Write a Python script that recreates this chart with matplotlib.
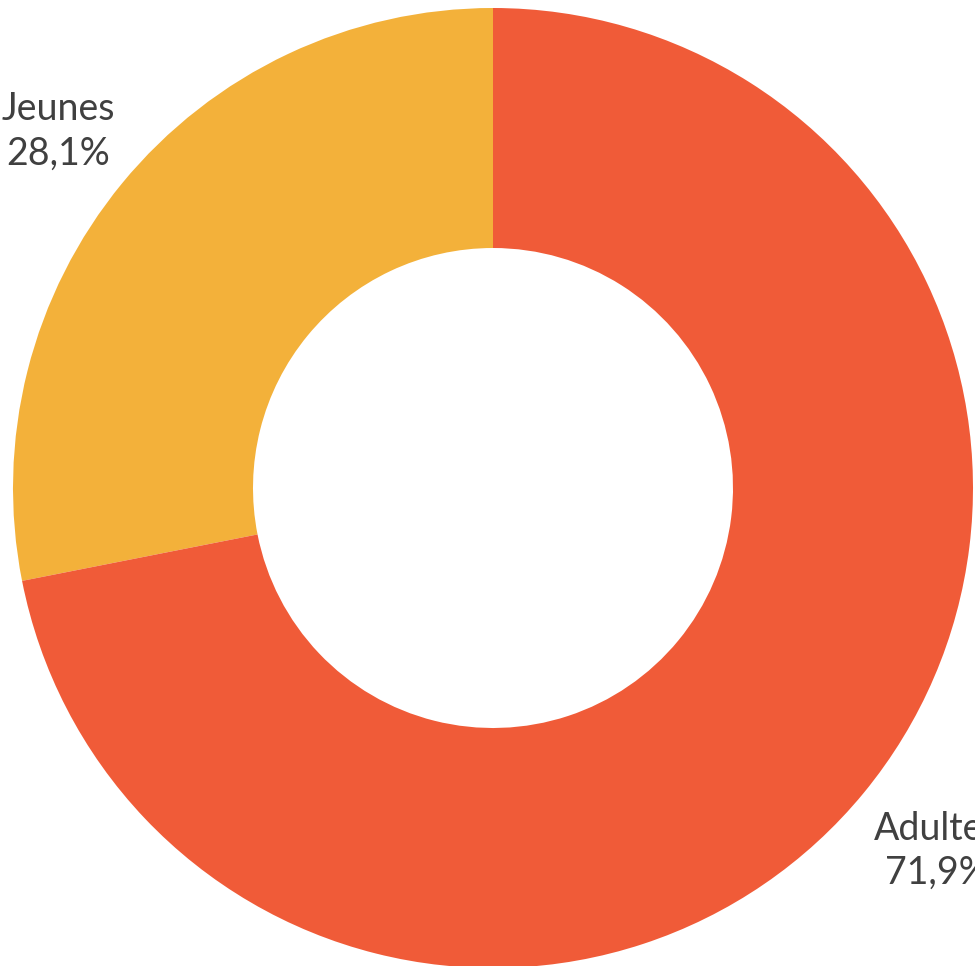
import matplotlib
matplotlib.use('Agg')
from matplotlib import pyplot as plt

labels = ['Jeunes', 'Adultes']
shares = [28.1, 71.9]
colors = ['#F3B13A', '#F05B38']

# label anchor points (data units, pie radius = 1)
label_pos = [(-0.906, 0.742), (0.925, -0.756)]

fig = plt.figure(figsize=(9.75, 9.66), dpi=100)
ax = fig.add_axes([0, 0, 1, 1])
ax.pie(shares, colors=colors, startangle=90, counterclock=True,
       radius=1.0, wedgeprops=dict(width=0.5, linewidth=0))
ax.set_xlim(-493 / 480, (975 - 493) / 480)
ax.set_ylim(-478 / 480, 488 / 480)
ax.set_aspect('auto')
ax.axis('off')

for name, val, (x, y) in zip(labels, shares, label_pos):
    txt = '{}\n{}%'.format(name, str(val).replace('.', ','))
    ax.text(x, y, txt, ha='center', va='center', fontsize=27,
            family='Lato', color='#404040', linespacing=1.3)

fig.savefig('out.png', dpi=100, facecolor='white')
